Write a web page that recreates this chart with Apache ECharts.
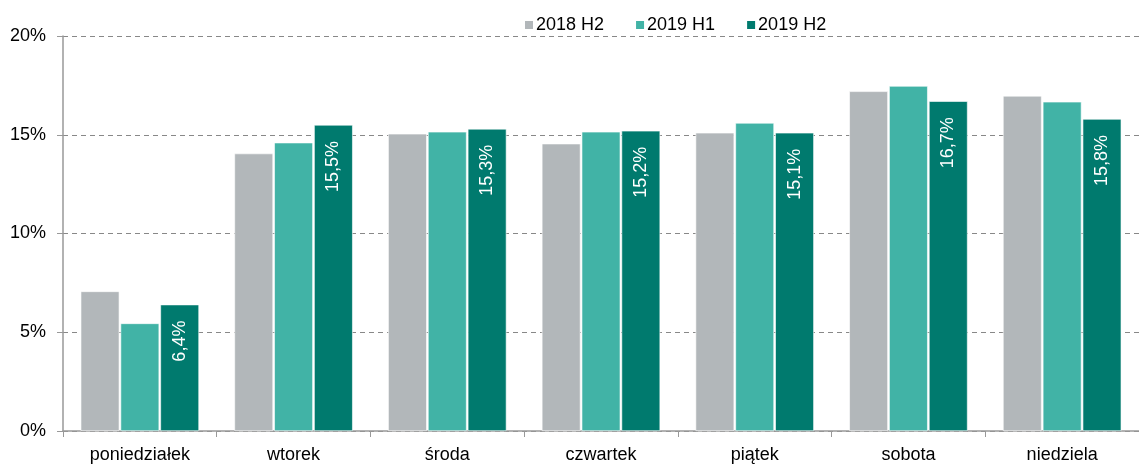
<!DOCTYPE html>
<html><head><meta charset="utf-8">
<script src="https://cdn.jsdelivr.net/npm/echarts@6/dist/echarts.min.js"></script>
<style>html,body{margin:0;padding:0;background:#fff}#c{width:1139px;height:464px}</style>
</head><body><div id="c"></div>
<script>
const categories = ['poniedziałek','wtorek','środa','czwartek','piątek','sobota','niedziela'];
const s2018H2 = [7.07, 14.05, 15.05, 14.55, 15.1, 17.2, 16.97];
const s2019H1 = [5.45, 14.6, 15.15, 15.15, 15.6, 17.47, 16.67];
const s2019H2 = [6.4, 15.5, 15.3, 15.2, 15.1, 16.7, 15.8];
const seriesNames = ['2018 H2','2019 H1','2019 H2'];
const yTicks = [0, 5, 10, 15, 20];

const font = 'Liberation Sans, Arial, sans-serif';
const chart = echarts.init(document.getElementById('c'));
chart.setOption({
  animation: false,
  textStyle: {fontFamily: font},
  legend: {
    top: 11, left: 518, itemWidth: 10, itemHeight: 10, itemGap: 30,
    icon: 'rect',
    textStyle: {fontSize: 18, color: '#000', fontFamily: font, padding: [0,0,0,-3]},
    data: seriesNames
  },
  grid: {left: 63, right: -3, top: 36, bottom: 32},
  xAxis: {
    type: 'category', data: categories,
    axisLine: {lineStyle: {color: '#999', width: 1.5}},
    axisTick: {show: true, length: 6, lineStyle: {color: '#999'}},
    axisLabel: {fontSize: 18, color: '#000', margin: 15, fontFamily: font}
  },
  yAxis: {
    type: 'value', min: yTicks[0], max: yTicks[yTicks.length-1], interval: 5,
    axisLine: {show: true, lineStyle: {color: '#999', width: 1.5}},
    axisTick: {show: true, length: 6, lineStyle: {color: '#999'}},
    axisLabel: {fontSize: 18, color: '#000', margin: 17, fontFamily: font, formatter: v => v + '%'},
    splitLine: {lineStyle: {color: '#888', type: [5,4], width: 1}}
  },
  series: [
    {name: seriesNames[0], type: 'bar', data: s2018H2, barGap: '3%', barCategoryGap: '23%',
     itemStyle: {color: '#B2B7BA', borderColor: '#fff', borderWidth: 0.6}},
    {name: seriesNames[1], type: 'bar', data: s2019H1, barGap: '3%', barCategoryGap: '23%',
     itemStyle: {color: '#41B3A6', borderColor: '#fff', borderWidth: 0.6}},
    {name: seriesNames[2], type: 'bar', data: s2019H2, barGap: '3%', barCategoryGap: '23%',
     itemStyle: {color: '#007A6E', borderColor: '#fff', borderWidth: 0.6},
     label: {show: true, position: 'insideTop', rotate: 90, align: 'right', verticalAlign: 'middle',
       distance: 16, color: '#fff', fontSize: 18, fontFamily: font,
       formatter: p => p.value.toFixed(1).replace('.', ',') + '%'}}
  ]
});
</script></body></html>
